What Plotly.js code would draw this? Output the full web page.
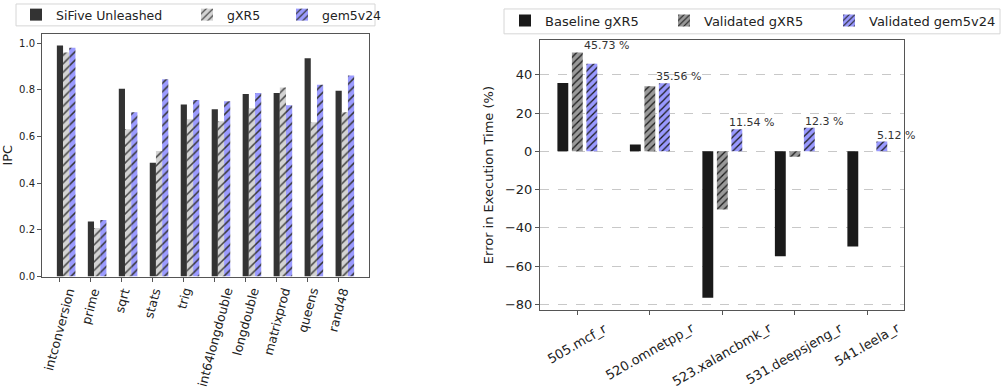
<!DOCTYPE html>
<html>
<head>
<meta charset="utf-8">
<script src="https://cdn.plot.ly/plotly-3.0.1.min.js"></script>
<style>html,body{margin:0;padding:0;background:#fff;}#chart{width:1005px;height:388px;}</style>
</head>
<body>
<div id="chart"></div>
<script>
// Left chart: IPC per microbenchmark
const benchmarks = ["intconversion","prime","sqrt","stats","trig","int64longdouble","longdouble","matrixprod","queens","rand48"];
const sifive = [0.99,0.236,0.805,0.488,0.737,0.717,0.782,0.787,0.935,0.796];
const gxr5   = [0.96,0.208,0.631,0.538,0.674,0.666,0.721,0.81,0.661,0.704];
const gem5v24 = [0.98,0.242,0.704,0.845,0.757,0.751,0.787,0.734,0.822,0.862];

// Right chart: error in execution time (%)
const specNames = ["505.mcf_r","520.omnetpp_r","523.xalancbmk_r","531.deepsjeng_r","541.leela_r"];
const baselineErr = [35.7,3.6,-76.6,-54.9,-49.8];
const validatedGxr5Err = [51.7,34.0,-30.4,-2.8,0];
const validatedGem5Err = [45.73,35.56,11.54,12.3,5.12];
const gem5Labels = ["45.73 %","35.56 %","11.54 %","12.3 %","5.12 %"];

const FONT = "DejaVu Sans, sans-serif";
const W = 1005, H = 388;
const px = v => v / W;          // horizontal pixel -> paper
const py = v => 1 - v / H;      // vertical pixel -> paper

const traces = [
  {type:'bar', x:benchmarks, y:sifive, name:'SiFive Unleashed', xaxis:'x', yaxis:'y', legend:'legend',
   width:0.2, offset:-0.1, marker:{color:'#333333', line:{width:0}}},
  {type:'bar', x:benchmarks, y:gxr5, name:'gXR5', xaxis:'x', yaxis:'y', legend:'legend2',
   width:0.2, offset:0.1, marker:{color:'#d3d3d3', line:{width:0},
   pattern:{shape:'/', bgcolor:'#d3d3d3', fgcolor:'#444', size:6, solidity:0.25}}},
  {type:'bar', x:benchmarks, y:gem5v24, name:'gem5v24', xaxis:'x', yaxis:'y', legend:'legend3',
   width:0.2, offset:0.3, marker:{color:'#9b9bff', line:{width:0},
   pattern:{shape:'/', bgcolor:'#9b9bff', fgcolor:'#333', size:6, solidity:0.25}}},

  {type:'bar', x:specNames, y:baselineErr, name:'Baseline gXR5', xaxis:'x2', yaxis:'y2', legend:'legend4',
   width:0.15, offset:-0.275, marker:{color:'#1a1a1a', line:{width:0}}},
  {type:'bar', x:specNames, y:validatedGxr5Err, name:'Validated gXR5', xaxis:'x2', yaxis:'y2', legend:'legend5',
   width:0.15, offset:-0.075, marker:{color:'#999999', line:{width:0},
   pattern:{shape:'/', bgcolor:'#999999', fgcolor:'#1a1a1a', size:5, solidity:0.25}}},
  {type:'bar', x:specNames, y:validatedGem5Err, name:'Validated gem5v24', xaxis:'x2', yaxis:'y2', legend:'legend6',
   width:0.15, offset:0.125, marker:{color:'#9999ff', line:{width:0},
   pattern:{shape:'/', bgcolor:'#9999ff', fgcolor:'#1a1a1a', size:5, solidity:0.25}}}
];

const annotations = [];
// value labels above gem5 bars
specNames.forEach((n,i)=>annotations.push({
  xref:'x2', yref:'y2', x:i+0.4,
  y:Math.max(baselineErr[i], validatedGxr5Err[i], validatedGem5Err[i]),
  text:gem5Labels[i], showarrow:false, xanchor:'center', yanchor:'bottom', yshift:-2,
  font:{family:FONT, size:11, color:'#333'}
}));
// rotated, centered category labels (left)
benchmarks.forEach((n,i)=>annotations.push({
  xref:'x', yref:'paper', x:i, y:py(283), text:n, showarrow:false,
  xanchor:'center', yanchor:'top', textangle:-75,
  font:{family:FONT, size:12.5, color:'#222'}
}));
// rotated, centered category labels (right)
specNames.forEach((n,i)=>annotations.push({
  xref:'x2', yref:'paper', x:i, y:py(317), text:n, showarrow:false,
  xanchor:'center', yanchor:'top', textangle:-30,
  font:{family:FONT, size:13, color:'#222'}
}));

const axisCommon = {showline:true, mirror:true, linecolor:'#555', linewidth:1, ticks:'outside', ticklen:4, tickcolor:'#555', zeroline:false};

function leg(xText, yTextCenter, size){
  return {orientation:'h', x:px(xText-41), y:py(yTextCenter-15), xanchor:'left', yanchor:'top',
    borderwidth:0, bgcolor:'rgba(0,0,0,0)', font:{size:size, family:FONT, color:'#222'}};
}

const layout = {
  width:W, height:H, margin:{l:0,r:0,t:0,b:0},
  paper_bgcolor:'#fff', plot_bgcolor:'#fff',
  font:{family:FONT, color:'#222'},
  barmode:'group', showlegend:true,
  xaxis:Object.assign({}, axisCommon, {domain:[px(42), px(369)], anchor:'y', range:[-0.58, 9.98],
    showticklabels:false, showgrid:false}),
  yaxis:Object.assign({}, axisCommon, {domain:[py(276), py(32)], anchor:'x', range:[0, 1.04],
    tickvals:[0,0.2,0.4,0.6,0.8,1.0], tickformat:'.1f', tickfont:{size:10, family:FONT, color:'#222'},
    showgrid:false, title:{text:'IPC', font:{size:13, family:FONT, color:'#222'}, standoff:6}}),
  xaxis2:Object.assign({}, axisCommon, {domain:[px(540), px(904)], anchor:'y2', range:[-0.515, 4.506],
    showticklabels:false, showgrid:false}),
  yaxis2:Object.assign({}, axisCommon, {domain:[py(310), py(38)], anchor:'x2', range:[-83.2, 58.3],
    dtick:20, tickfont:{size:13, family:FONT, color:'#222'},
    showgrid:true, gridcolor:'#c8c8c8', griddash:'dash', gridwidth:1,
    title:{text:'Error in Execution Time (%)', font:{size:13, family:FONT, color:'#222'}, standoff:8}}),
  legend:leg(57, 12.5, 12.5),
  legend2:leg(228, 12.5, 12.5),
  legend3:leg(323, 12.5, 12.5),
  legend4:leg(546, 18.5, 13),
  legend5:leg(705, 18.5, 13),
  legend6:leg(870, 18.5, 13),
  shapes:[
    {type:'rect', xref:'paper', yref:'paper', x0:px(16), x1:px(375), y0:py(24), y1:py(2),
     line:{color:'#d6d6d6', width:1}, fillcolor:'rgba(0,0,0,0)', layer:'above'},
    {type:'rect', xref:'paper', yref:'paper', x0:px(504), x1:px(1000), y0:py(32), y1:py(7),
     line:{color:'#d6d6d6', width:1}, fillcolor:'rgba(0,0,0,0)', layer:'above'}
  ],
  annotations:annotations
};

Plotly.newPlot('chart', traces, layout, {displayModeBar:false, staticPlot:true});
</script>
</body>
</html>
